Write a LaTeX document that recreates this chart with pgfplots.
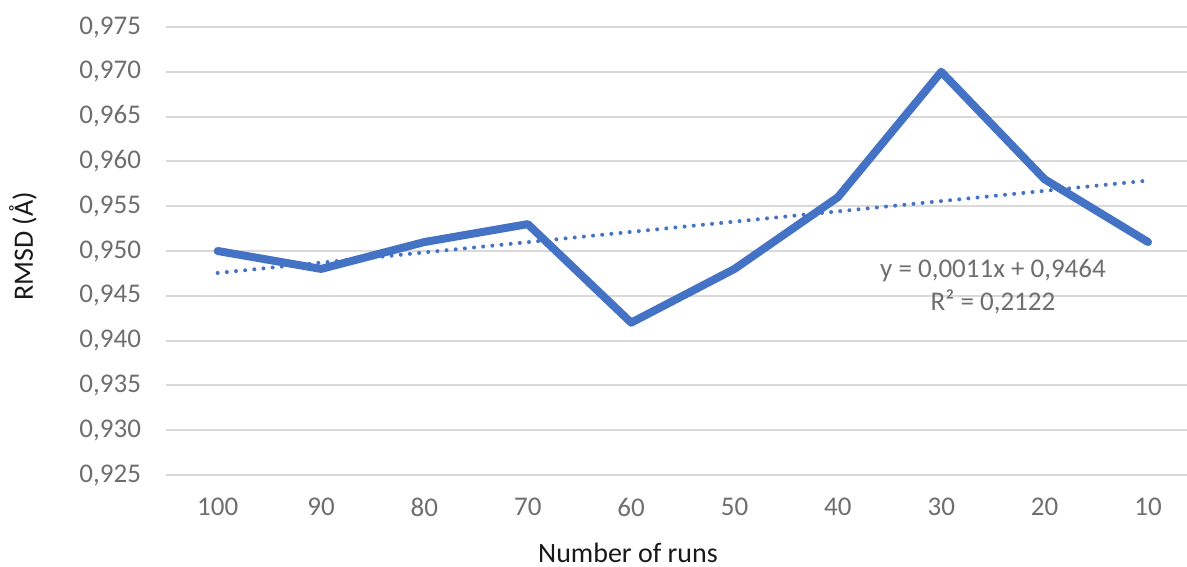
\documentclass[border=0pt]{standalone}
\usepackage{fontspec}
\setmainfont{Carlito}
\usepackage{pgfplots}
\pgfplotsset{compat=1.18}
\definecolor{exblue}{HTML}{4472C4}
\definecolor{extext}{HTML}{6E6E6E}
\definecolor{exgrid}{HTML}{D9D9D9}
\begin{document}
\begin{tikzpicture}
\begin{axis}[
  scale only axis,
  width=510.5pt, height=224pt,
  xmin=-0.5, xmax=9.377,
  ymin=0.925, ymax=0.975,
  axis line style={draw=none},
  ytick={0.925,0.930,...,0.976},
  xtick={0,...,9},
  xticklabels={100,90,80,70,60,50,40,30,20,10},
  ymajorgrids,
  grid style={exgrid, line width=1pt},
  major tick length=0pt,
  tick style={draw=none},
  tick label style={font=\fontsize{13.5}{16}\selectfont, text=extext},
  yticklabel style={xshift=-9pt,
    /pgf/number format/.cd, fixed, fixed zerofill, precision=3, use comma, assume math mode=true},
  xticklabel style={yshift=-8pt},
  xlabel={Number of runs},
  ylabel={RMSD (Å)},
  label style={font=\fontsize{14}{16}\selectfont, text=black!90},
  xlabel style={at={(axis description cs:0.4525,0)}, anchor=base, inner sep=0pt, text depth=0pt, yshift=-44pt},
  ylabel style={at={(axis description cs:-0.1303,0.51)}, anchor=base},
  clip=false,
]
\addplot[exblue, line width=4pt, line cap=round, line join=round] coordinates {
  (0,0.950) (1,0.948) (2,0.951) (3,0.953) (4,0.942)
  (5,0.948) (6,0.956) (7,0.970) (8,0.958) (9,0.951)
};
\addplot[exblue, line width=2pt, line cap=round, dash pattern=on 0pt off 4.6pt] coordinates {
  (0,0.94755) (9,0.95786)
};
\node[font=\fontsize{13.5}{16.5}\selectfont, text=extext, align=center] at (axis cs:7.5,0.946) {y = 0,0011x + 0,9464\\R² = 0,2122};
\coordinate (bl) at (rel axis cs:0,0);
\coordinate (tr) at (rel axis cs:1,1);
\end{axis}
\pgfresetboundingbox
\path (bl) ++(-83pt,-46pt) coordinate (a);
\path (tr) ++(0pt,13.5pt) coordinate (b);
\useasboundingbox (a) rectangle (b);
\end{tikzpicture}
\end{document}
